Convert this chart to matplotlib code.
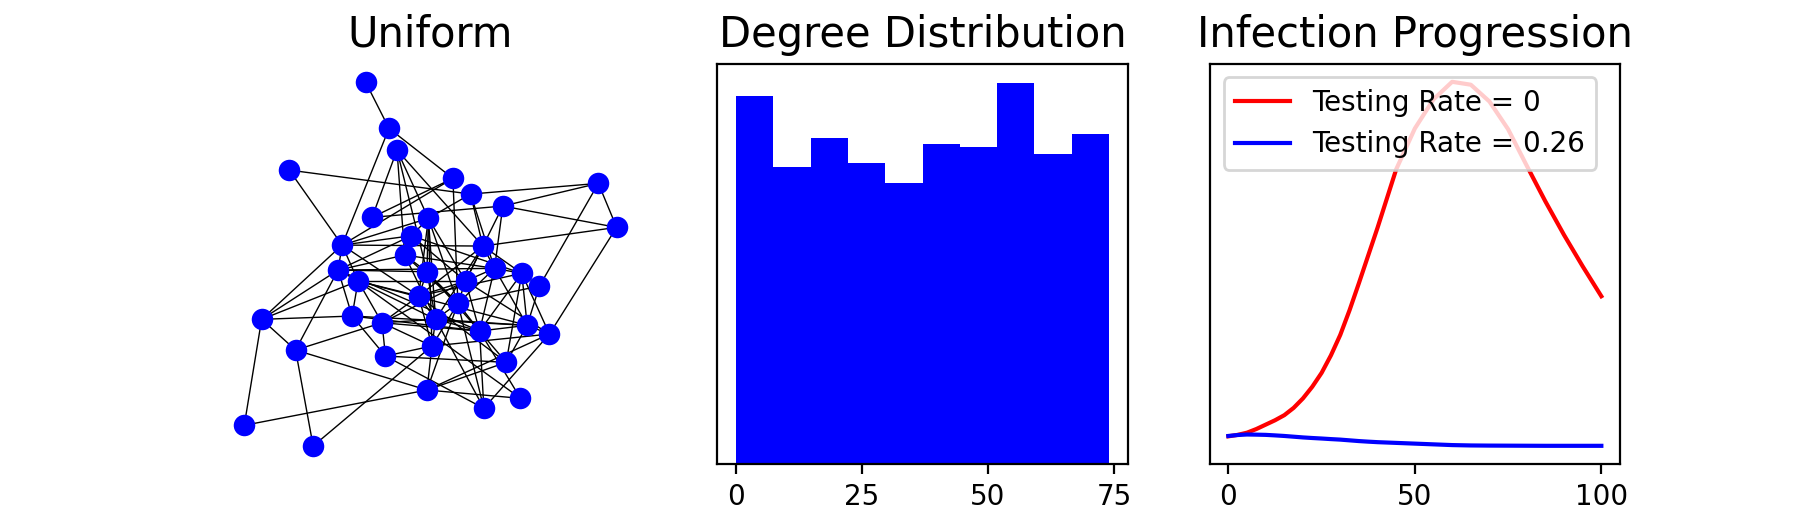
import numpy as np
import matplotlib.pyplot as plt
from matplotlib.collections import LineCollection

# network nodes (layout positions)
node_names = list("ABCDEFGHIJKLMNOPQRSTUVWXYZabcdefghijklmn")
node_x = [366.0, 389.3, 397.3, 289.3, 453.3, 471.0, 503.3, 599.0, 617.3, 372.3,
          428.7, 411.7, 342.3, 405.0, 483.3, 338.3, 358.3, 427.3, 495.0, 522.3,
          540.0, 466.0, 419.0, 458.3, 261.7, 352.3, 382.3, 436.0, 480.0, 527.7,
          550.0, 295.7, 385.7, 432.3, 506.7, 427.3, 521.0, 484.3, 244.3, 313.3]
node_y = [82.3, 128.3, 150.0, 170.0, 178.3, 194.0, 206.0, 183.3, 227.3, 217.3,
          218.3, 235.7, 245.0, 255.0, 246.0, 270.0, 281.0, 271.7, 268.3, 273.3,
          286.0, 281.0, 296.0, 303.3, 319.3, 316.0, 322.7, 319.3, 331.0, 325.3,
          334.0, 350.0, 356.0, 346.0, 362.3, 390.0, 398.3, 408.3, 425.3, 446.0]

edges = [
    "AB", "BE", "BM", "CJ", "CK", "CN", "CO", "CR", "DF", "DM",
    "EX", "EJ", "EM", "FH", "FO", "FS", "FK", "GH", "GI", "GS",
    "GJ", "GV", "HI", "HU", "IO", "Ie", "Ym", "Yf", "YZ", "YP",
    "YM", "YQ", "fn", "fP", "fa", "fj", "mj", "nh", "jk", "ji",
    "je", "jh", "jX", "le", "lg", "lX", "lb", "kc", "Qk", "iT",
    "KL", "KW", "KR", "KV", "Kb", "Kh", "KX", "LN", "LP", "LM",
    "LV", "LT", "MP", "MQ", "MK", "MO", "MW", "NR", "NP", "NS",
    "NX", "Nb", "OS", "OV", "OW", "OT", "Ob", "PQ", "PZ", "PS",
    "PR", "Pc", "QZ", "Qa", "QW", "QV", "Qd", "Qb", "RW", "RX",
    "Rb", "Rc", "ST", "SV", "Sd", "SX", "Sc", "TU", "Td", "Te",
    "TW", "Tc", "Ud", "UX", "VX", "VW", "Ve", "Vc", "Va", "Wa",
    "Wb", "Wh", "Wi", "Xb", "Xc", "Xh", "Zg", "Zc", "Zd", "ab",
    "ag", "ac", "ah", "bc", "bh", "bd", "cd", "ci", "cl", "de",
    "di", "gh", "gi", "he",
]

# degree histogram (10 bins over 0..74)
hist_edges = np.linspace(0, 74, 11)
hist_counts = [114, 92, 101, 93, 87, 99, 98, 118, 96, 102]

# infection progression
days = [0, 2.5, 5, 7.5, 10, 12.5, 15, 17.5, 20, 22.5, 25, 27.5, 30, 32.5, 35,
        37.5, 40, 45, 50, 55, 60, 65, 70, 75, 80, 85, 90, 95, 100]
infected_no_test = [13, 15, 18, 23, 29, 35, 42, 52, 65, 81, 100, 124, 152, 186, 223,
                    261, 299, 379, 435, 475, 499, 495, 472, 434, 384, 335, 289, 246, 205]
infected_test = [13.5, 14.8, 15.5, 15.3, 15, 14.3, 13.5, 12.5, 11.5, 10.7, 10, 9.2,
                 8.5, 7.5, 6.5, 5.7, 5, 4, 3, 2, 1, 0.5, 0.3, 0.2, 0.1, 0, 0, 0, 0]

fig, axes = plt.subplots(1, 3, figsize=(9, 2.65), dpi=200)
fig.subplots_adjust(bottom=0.1245, top=0.88)

# graph
ax = axes[0]
idx = {n: i for i, n in enumerate(node_names)}
segs = [[(node_x[idx[a]], node_y[idx[a]]), (node_x[idx[b]], node_y[idx[b]])]
        for a, b in edges]
ax.add_collection(LineCollection(segs, colors="black", linewidths=0.5, zorder=1))
ax.scatter(node_x, node_y, s=60, color="blue", zorder=2, linewidths=0)
ax.set_xlim(225, 636)
ax.set_ylim(464, 63.5)
ax.axis("off")
ax.set_title("Uniform", fontsize=15)

# degree distribution
ax = axes[1]
ax.hist(hist_edges[:-1], bins=hist_edges, weights=hist_counts, color="blue")
ax.set_yticks([])
ax.set_title("Degree Distribution", fontsize=15)

# infection progression
ax = axes[2]
ax.plot(days, infected_no_test, color="red", label="Testing Rate = 0")
ax.plot(days, infected_test, color="blue", label="Testing Rate = 0.26")
ax.set_yticks([])
ax.legend(loc="upper left")
ax.set_title("Infection Progression", fontsize=15)

fig.savefig("out.png")
